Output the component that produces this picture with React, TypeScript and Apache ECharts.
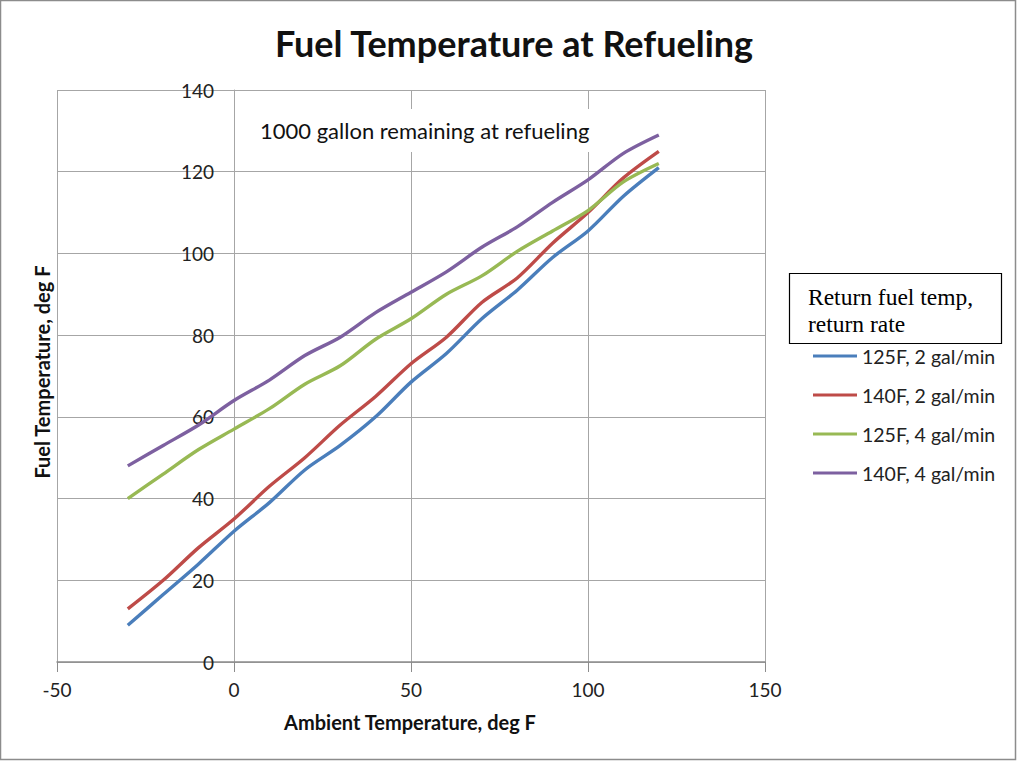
import React, { useEffect, useRef } from "react";
import * as echarts from "echarts";

const ambient = [-30, -20, -10, 0, 10, 20, 30, 40, 50, 60, 70, 80, 90, 100, 110, 120];
const s125F2 = [9, 16.5, 24, 32, 39, 47, 53, 60, 68.5, 75.5, 84, 91, 99, 105.5, 114, 121];
const s140F2 = [13, 20, 28, 35, 43, 50, 58, 65, 73, 79.5, 88, 94, 102.5, 110, 118.5, 125];
const s125F4 = [40, 46, 52, 57, 62, 68, 72.5, 79, 84, 90, 94.5, 100.5, 105.5, 110.5, 117.5, 122];
const s140F4 = [48, 53, 58, 64, 69, 75, 79.5, 85.5, 90.5, 95.5, 101.5, 106.5, 112.5, 118, 124.5, 129];

const seriesNames = ["125F, 2 gal/min", "140F, 2 gal/min", "125F, 4 gal/min", "140F, 4 gal/min"];
const seriesValues = [s125F2, s140F2, s125F4, s140F4];
const colors = ["#4a7ebb", "#be4b48", "#98b954", "#7d60a0"];

const FONT = "Lato, 'Open Sans', sans-serif";
const SERIF = "'Liberation Serif', 'DejaVu Serif', serif";

export default function App() {
  const ref = useRef<HTMLDivElement>(null);
  useEffect(() => {
    if (!ref.current) return;
    const chart = echarts.init(ref.current, null, { renderer: "svg" });
    chart.setOption({
      animation: false,
      backgroundColor: "#ffffff",
      textStyle: { fontFamily: FONT },
      title: {
        text: "Fuel Temperature at Refueling",
        left: 509,
        textAlign: "center",
        top: 20,
        textStyle: { fontFamily: FONT, fontSize: 36, fontWeight: "bold", color: "#111" },
      },
      grid: { left: 57, top: 90, right: 252, bottom: 99, containLabel: false },
      legend: {
        orient: "vertical",
        left: 808,
        top: 341,
        icon: "rect",
        itemWidth: 44,
        itemHeight: 3,
        itemGap: 19,
        textStyle: { fontFamily: FONT, fontSize: 19.5, color: "#222", lineHeight: 20 },
        data: seriesNames,
      },
      xAxis: {
        type: "value",
        min: -50,
        max: 150,
        interval: 50,
        axisLine: { show: true, onZero: true, lineStyle: { color: "#8c8c8c", width: 1.5 } },
        axisTick: { show: true, length: 10, lineStyle: { color: "#8c8c8c" } },
        axisLabel: { fontFamily: FONT, fontSize: 19, color: "#222", margin: 18 },
        splitLine: { show: true, lineStyle: { color: "#a6a6a6", width: 1 } },
      },
      yAxis: {
        type: "value",
        position: "left",
        offset: -177,
        min: 0,
        max: 140,
        interval: 20,
        axisLine: { show: true, onZero: false, lineStyle: { color: "#a6a6a6", width: 1 } },
        axisTick: { show: false },
        axisLabel: { fontFamily: FONT, fontSize: 19, color: "#222", margin: 20 },
        splitLine: { show: true, lineStyle: { color: "#a6a6a6", width: 1 } },
      },
      series: seriesNames.map((name, i) => ({
        name,
        type: "line",
        data: ambient.map((x, j) => [x, seriesValues[i][j]]),
        smooth: 0.3,
        showSymbol: false,
        symbol: "none",
        lineStyle: { color: colors[i], width: 3.4 },
        itemStyle: { color: colors[i] },
        z: 3,
      })),
      graphic: [
        {
          type: "rect",
          shape: { x: 0.5, y: 0.5, width: 1015, height: 759 },
          style: { fill: "none", stroke: "#8c8c8c", lineWidth: 1.5 },
          silent: true,
        },
        {
          type: "rect",
          shape: { x: 250, y: 109, width: 348, height: 43 },
          style: { fill: "#ffffff" },
          z: 1,
        },
        {
          type: "text",
          x: 260,
          y: 130,
          style: {
            text: "1000 gallon remaining at refueling",
            fontFamily: FONT,
            fontSize: 22,
            fill: "#111",
            verticalAlign: "middle",
          },
          z: 2,
        },
        {
          type: "text",
          x: 410,
          y: 722,
          style: {
            text: "Ambient Temperature, deg F",
            fontFamily: FONT,
            fontSize: 20,
            fontWeight: "bold",
            fill: "#111",
            align: "center",
            verticalAlign: "middle",
          },
        },
        {
          type: "text",
          x: 42,
          y: 372,
          rotation: Math.PI / 2,
          style: {
            text: "Fuel Temperature, deg F",
            fontFamily: FONT,
            fontSize: 20,
            fontWeight: "bold",
            fill: "#111",
            align: "center",
            verticalAlign: "middle",
          },
        },
        {
          type: "rect",
          shape: { x: 789.5, y: 273.5, width: 212, height: 70 },
          style: { fill: "#ffffff", stroke: "#000", lineWidth: 1.2 },
        },
        {
          type: "text",
          x: 808,
          y: 297,
          style: {
            text: "Return fuel temp,",
            fontFamily: SERIF,
            fontSize: 23.5,
            fill: "#000",
            verticalAlign: "middle",
          },
        },
        {
          type: "text",
          x: 808,
          y: 324,
          style: {
            text: "return rate",
            fontFamily: SERIF,
            fontSize: 23.5,
            fill: "#000",
            verticalAlign: "middle",
          },
        },
      ],
    });
    return () => chart.dispose();
  }, []);
  return (
    <div
      ref={ref}
      style={{ position: "fixed", left: 0, top: 0, width: 1017, height: 761 }}
    />
  );
}
